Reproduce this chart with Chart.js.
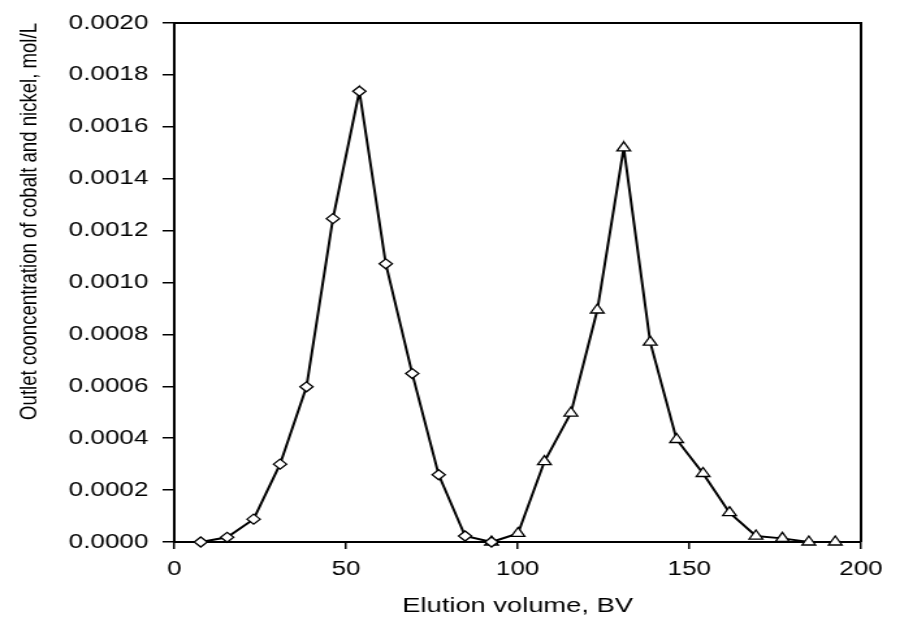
<!DOCTYPE html>
<html>
<head>
<meta charset="utf-8">
<script src="https://cdn.jsdelivr.net/npm/chart.js@4/dist/chart.umd.min.js"></script>
<style>
  html, body { margin: 0; padding: 0; background: #fff; overflow: hidden; }
  #wrap { width: 692px; height: 619px; transform: scaleX(1.3006); transform-origin: 0 0; }
</style>
</head>
<body>
<div id="wrap"><canvas id="chart" width="692" height="619"></canvas></div>
<script>
// elution volume (BV) and outlet concentration (mol/L)
const cobaltX = [7.7, 15.4, 23.1, 30.8, 38.5, 46.2, 53.9, 61.6, 69.3, 77.0, 84.7, 92.4];
const cobaltY = [0.0000, 0.000018, 0.000088, 0.000300, 0.000598, 0.001246, 0.001737, 0.001072, 0.000649, 0.000259, 0.000023, 0.0000];
const nickelX = [92.4, 100.1, 107.8, 115.5, 123.2, 130.9, 138.6, 146.3, 154.0, 161.7, 169.4, 177.1, 184.8, 192.5];
const nickelY = [0.0000, 0.000033, 0.000310, 0.000497, 0.000894, 0.001519, 0.000770, 0.000395, 0.000264, 0.000113, 0.000023, 0.000014, 0.0000, 0.0000];

const xTicks = [0, 50, 100, 150, 200];
const yTicks = [0, 0.0002, 0.0004, 0.0006, 0.0008, 0.0010, 0.0012, 0.0014, 0.0016, 0.0018, 0.0020];

const FONT = "'Liberation Sans', Arial, Helvetica, sans-serif";

function toPoints(xs, ys) {
  return xs.map((x, i) => ({ x: x, y: ys[i] }));
}

// top and right frame lines
const frame = {
  id: "frame",
  afterDraw(chart) {
    const { ctx, chartArea: a } = chart;
    ctx.save();
    ctx.strokeStyle = "#000";
    ctx.lineWidth = 2;
    ctx.beginPath();
    ctx.moveTo(a.left, a.top);
    ctx.lineTo(a.right, a.top);
    ctx.lineTo(a.right, a.bottom);
    ctx.stroke();
    ctx.restore();
  }
};

new Chart(document.getElementById("chart"), {
  type: "scatter",
  data: {
    datasets: [
      {
        label: "Cobalt",
        data: toPoints(cobaltX, cobaltY),
        showLine: true,
        borderColor: "#000",
        borderWidth: 2,
        pointStyle: "rectRot",
        pointRadius: 5,
        pointBackgroundColor: "#fff",
        pointBorderColor: "#000",
        pointBorderWidth: 1.3,
        clip: false
      },
      {
        label: "Nickel",
        data: toPoints(nickelX, nickelY),
        showLine: true,
        borderColor: "#000",
        borderWidth: 2,
        pointStyle: "triangle",
        pointRadius: 6,
        pointBackgroundColor: "#fff",
        pointBorderColor: "#000",
        pointBorderWidth: 1.3,
        clip: false
      }
    ]
  },
  options: {
    responsive: false,
    animation: false,
    devicePixelRatio: 1,
    layout: { padding: { top: 17, right: 30, left: 0, bottom: 0 } },
    plugins: { legend: { display: false }, tooltip: { enabled: false } },
    scales: {
      x: {
        type: "linear",
        min: 0,
        max: 200,
        afterBuildTicks: s => { s.ticks = xTicks.map(v => ({ value: v })); },
        afterFit: s => { s.height = 77; },
        border: { color: "#000", width: 2 },
        grid: { drawOnChartArea: false, color: "#000", lineWidth: 1.5, tickLength: 7 },
        ticks: { color: "#000", padding: 8, font: { family: FONT, size: 20 } },
        title: {
          display: true,
          text: "Elution volume, BV",
          color: "#000",
          padding: { top: 0, bottom: 0 },
          font: { family: FONT, size: 21 }
        }
      },
      y: {
        type: "linear",
        min: 0,
        max: 0.002,
        afterBuildTicks: s => { s.ticks = yTicks.map(v => ({ value: v })); },
        afterFit: s => { s.width = 134; },
        border: { color: "#000", width: 2 },
        grid: { drawOnChartArea: false, color: "#000", lineWidth: 1.5, tickLength: 9 },
        ticks: {
          color: "#000",
          padding: 11,
          font: { family: FONT, size: 20 },
          callback: v => Number(v).toFixed(4)
        },
        title: {
          display: true,
          text: "Outlet cooncentration of cobalt and nickel, mol/L",
          color: "#000",
          align: "end",
          padding: { top: 12, bottom: 0 },
          font: { family: FONT, size: 18.6 }
        }
      }
    }
  },
  plugins: [frame]
});
</script>
</body>
</html>
